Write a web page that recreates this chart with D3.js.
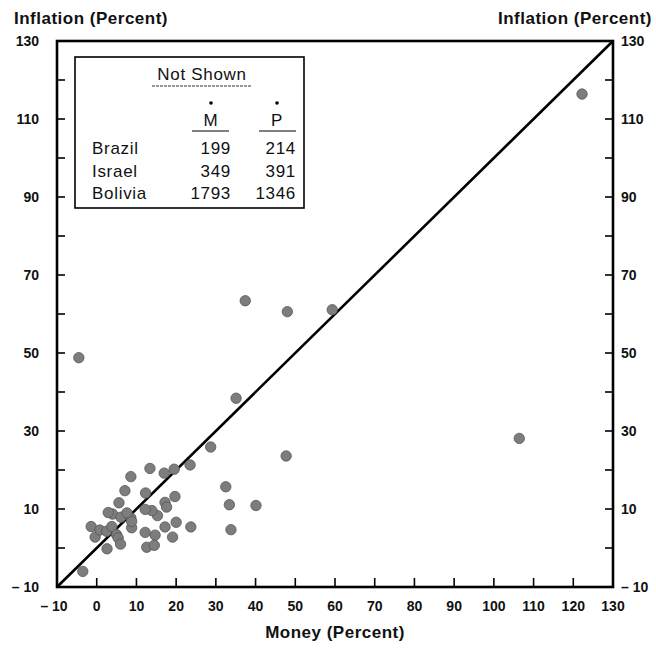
<!DOCTYPE html>
<html>
<head>
<meta charset="utf-8">
<script src="https://cdn.jsdelivr.net/npm/d3@7"></script>
<style>
  html, body { margin: 0; padding: 0; background: #fff; }
  svg { display: block; font-family: "Liberation Sans", Arial, Helvetica, sans-serif; }
</style>
</head>
<body>
<svg id="chart" width="656" height="651"></svg>
<script>
// ---- Data ----
const money = [122.2, 106.4, 59.3, 48.0, 37.4, -4.5, 35.1, 28.7, 47.7, 32.5, 33.4, 40.1, 33.8,
  23.5, 19.5, 17.0, 13.4, 8.6, 7.1, 12.3, 5.6, 17.2, 17.6, 19.7, 15.3, 13.9, 12.2,
  4.0, 6.1, 8.6, 8.8, -1.4, -0.4, 0.8, 2.5, 3.8, 5.0, 5.4, 6.0, 2.6, 8.8, -3.5,
  12.2, 14.7, 12.6, 14.5, 17.2, 20.0, 19.1, 23.7, 7.6, 2.9];
const inflation = [116.4, 28.1, 61.1, 60.6, 63.4, 48.8, 38.4, 25.9, 23.6, 15.7, 11.1, 10.9, 4.7,
  21.3, 20.2, 19.2, 20.4, 18.3, 14.7, 14.1, 11.6, 11.7, 10.5, 13.2, 8.3, 9.6, 9.9,
  8.7, 7.9, 7.7, 5.2, 5.5, 2.8, 4.6, 4.3, 5.5, 3.4, 2.6, 1.0, -0.2, 6.8, -6.0,
  4.0, 3.3, 0.2, 0.7, 5.4, 6.6, 2.8, 5.4, 9.0, 9.1];

const countries = ["Brazil", "Israel", "Bolivia"];
const mValues = [199, 349, 1793];
const pValues = [214, 391, 1346];

const xTicks = [-10, 0, 10, 20, 30, 40, 50, 60, 70, 80, 90, 100, 110, 120, 130];
const yTickLabels = [130, 110, 90, 70, 50, 30, 10, -10];
const yTicksAll = [0, 10, 20, 30, 40, 50, 60, 70, 80, 90, 100, 110, 120];

const titleY = "Inflation (Percent)";
const titleX = "Money (Percent)";

// ---- Layout ----
const svg = d3.select("#chart");
const x = d3.scaleLinear().domain([-10, 130]).range([57, 613]);
const y = d3.scaleLinear().domain([-10, 130]).range([587, 41]);
const fmt = v => v < 0 ? "\u2013 " + Math.abs(v) : String(v);

// ticks (inward)
const tickG = svg.append("g").attr("stroke", "#000").attr("stroke-width", 1.6);
tickG.selectAll(".lt").data(yTicksAll).join("line")
  .attr("x1", x(-10)).attr("x2", x(-10) + 8)
  .attr("y1", d => y(d)).attr("y2", d => y(d));
tickG.selectAll(".rt").data(yTicksAll).join("line")
  .attr("x1", x(130)).attr("x2", x(130) - 8)
  .attr("y1", d => y(d)).attr("y2", d => y(d));
tickG.selectAll(".bt").data(xTicks.filter(d => d > -10 && d < 130)).join("line")
  .attr("x1", d => x(d)).attr("x2", d => x(d))
  .attr("y1", y(-10)).attr("y2", y(-10) - 9);

// frame
svg.append("rect")
  .attr("x", x(-10)).attr("y", y(130))
  .attr("width", x(130) - x(-10)).attr("height", y(-10) - y(130))
  .attr("fill", "none").attr("stroke", "#000").attr("stroke-width", 2.6);

// 45-degree line
svg.append("line")
  .attr("x1", x(-10)).attr("y1", y(-10))
  .attr("x2", x(130)).attr("y2", y(130))
  .attr("stroke", "#000").attr("stroke-width", 2.6);

// points
svg.append("g").selectAll("circle").data(money.map((m, i) => [m, inflation[i]])).join("circle")
  .attr("cx", d => x(d[0])).attr("cy", d => y(d[1])).attr("r", 5.2)
  .attr("fill", "#7d7d7d").attr("stroke", "#555").attr("stroke-width", 0.8);

// tick labels
const lab = svg.append("g").attr("font-size", 14).attr("font-weight", "bold").attr("fill", "#111");
lab.selectAll(".ly").data(yTickLabels).join("text")
  .attr("x", 39).attr("y", d => y(d)).attr("dy", "0.36em")
  .attr("text-anchor", "end").text(fmt);
lab.selectAll(".ry").data(yTickLabels).join("text")
  .attr("x", 621).attr("y", d => y(d)).attr("dy", "0.36em")
  .attr("text-anchor", "start").text(fmt);
lab.selectAll(".bx").data(xTicks).join("text")
  .attr("x", d => x(d) - (d < 0 ? 3 : 0)).attr("y", 611)
  .attr("text-anchor", "middle").text(fmt);

// titles
const tt = svg.append("g").attr("font-size", 17).attr("font-weight", "bold")
  .attr("letter-spacing", 0.5).attr("fill", "#111");
tt.append("text").attr("x", 14).attr("y", 24).text(titleY);
tt.append("text").attr("x", 652).attr("y", 24).attr("text-anchor", "end").text(titleY);
tt.append("text").attr("x", (x(-10) + x(130)) / 2).attr("y", 638).attr("text-anchor", "middle").text(titleX);

// legend table
const lg = svg.append("g").attr("font-size", 17).attr("letter-spacing", 0.7).attr("fill", "#111");
lg.append("rect").attr("x", 75).attr("y", 57).attr("width", 229).attr("height", 151)
  .attr("fill", "#fff").attr("stroke", "#000").attr("stroke-width", 1.6);
lg.append("text").attr("x", 202).attr("y", 80).attr("text-anchor", "middle").text("Not Shown");
lg.append("line").attr("x1", 152).attr("x2", 252).attr("y1", 86).attr("y2", 86)
  .attr("stroke", "#333").attr("stroke-width", 1).attr("stroke-dasharray", "3,1");
const heads = [{t: "M", cx: 211, u: [192, 229]}, {t: "P", cx: 277, u: [259, 296]}];
heads.forEach(h => {
  lg.append("circle").attr("cx", h.cx).attr("cy", 103).attr("r", 1.8).attr("fill", "#000");
  lg.append("text").attr("x", h.cx).attr("y", 126).attr("text-anchor", "middle").text(h.t);
  lg.append("line").attr("x1", h.u[0]).attr("x2", h.u[1]).attr("y1", 131).attr("y2", 131)
    .attr("stroke", "#000").attr("stroke-width", 1);
});
const rowY = [154, 177, 199];
lg.selectAll(".cn").data(countries).join("text")
  .attr("x", 92).attr("y", (d, i) => rowY[i]).text(d => d);
lg.selectAll(".mv").data(mValues).join("text")
  .attr("x", 231).attr("y", (d, i) => rowY[i]).attr("text-anchor", "end").text(d => d);
lg.selectAll(".pv").data(pValues).join("text")
  .attr("x", 296).attr("y", (d, i) => rowY[i]).attr("text-anchor", "end").text(d => d);
</script>
</body>
</html>
